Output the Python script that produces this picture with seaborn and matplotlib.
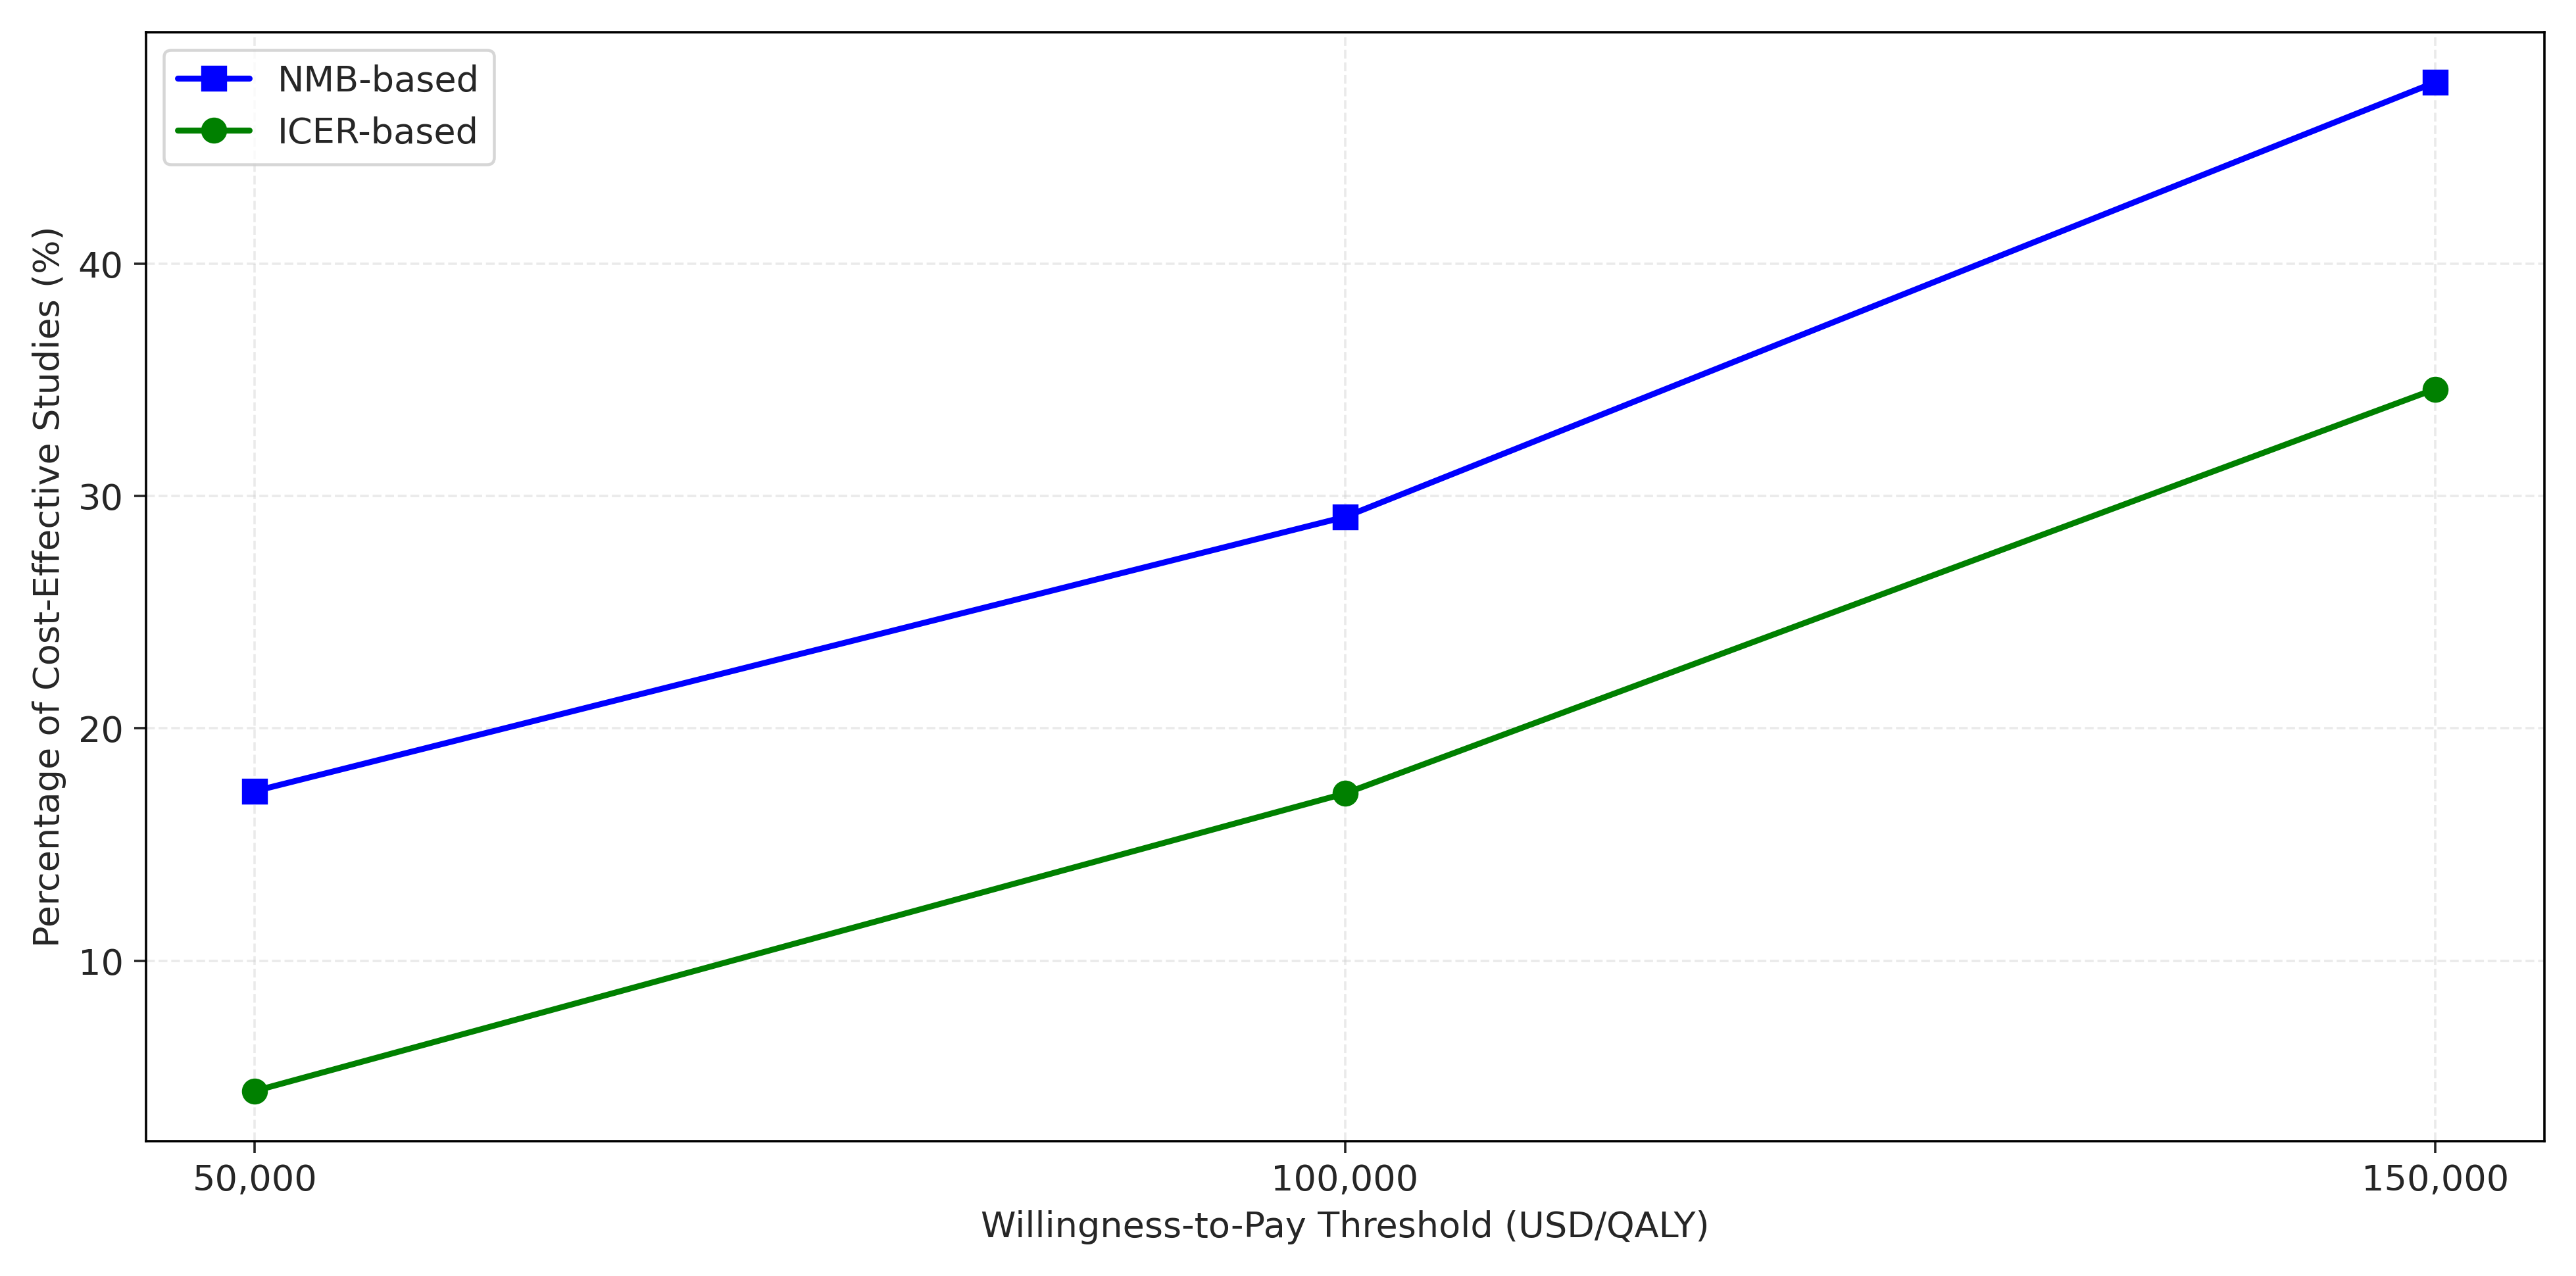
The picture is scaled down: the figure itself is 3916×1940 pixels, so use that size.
import matplotlib
matplotlib.use("Agg")
import matplotlib.pyplot as plt
import seaborn as sns
import pandas as pd

# data
thresholds = [50000, 100000, 150000]
tick_labels = ["50,000", "100,000", "150,000"]
nmb_pct = [17.3, 29.1, 47.8]
icer_pct = [4.4, 17.2, 34.6]

sns.set_style("white")
plt.rcParams['font.family'] = ['DejaVu Sans']

fig, ax = plt.subplots(figsize=(12.05, 5.97), dpi=325)

df = pd.DataFrame({"wtp": thresholds, "NMB-based": nmb_pct, "ICER-based": icer_pct})
sns.lineplot(data=df, x="wtp", y="NMB-based", ax=ax, color="blue", marker="s",
             markersize=8, linewidth=2, label="NMB-based", markeredgecolor="blue")
sns.lineplot(data=df, x="wtp", y="ICER-based", ax=ax, color="green", marker="o",
             markersize=8, linewidth=2, label="ICER-based", markeredgecolor="green")

ax.set_xticks(thresholds)
ax.set_xticklabels(tick_labels)
ax.set_yticks([10, 20, 30, 40])
ax.tick_params(labelsize=12, left=True, bottom=True, length=4)
ax.set_xlabel("Willingness-to-Pay Threshold (USD/QALY)", fontsize=12)
ax.set_ylabel("Percentage of Cost-Effective Studies (%)", fontsize=12)
ax.grid(True, linestyle="--", alpha=0.4)
for s in ax.spines.values():
    s.set_color("black")
ax.legend(loc="upper left", fontsize=12)

fig.tight_layout()
fig.savefig("out.png")
